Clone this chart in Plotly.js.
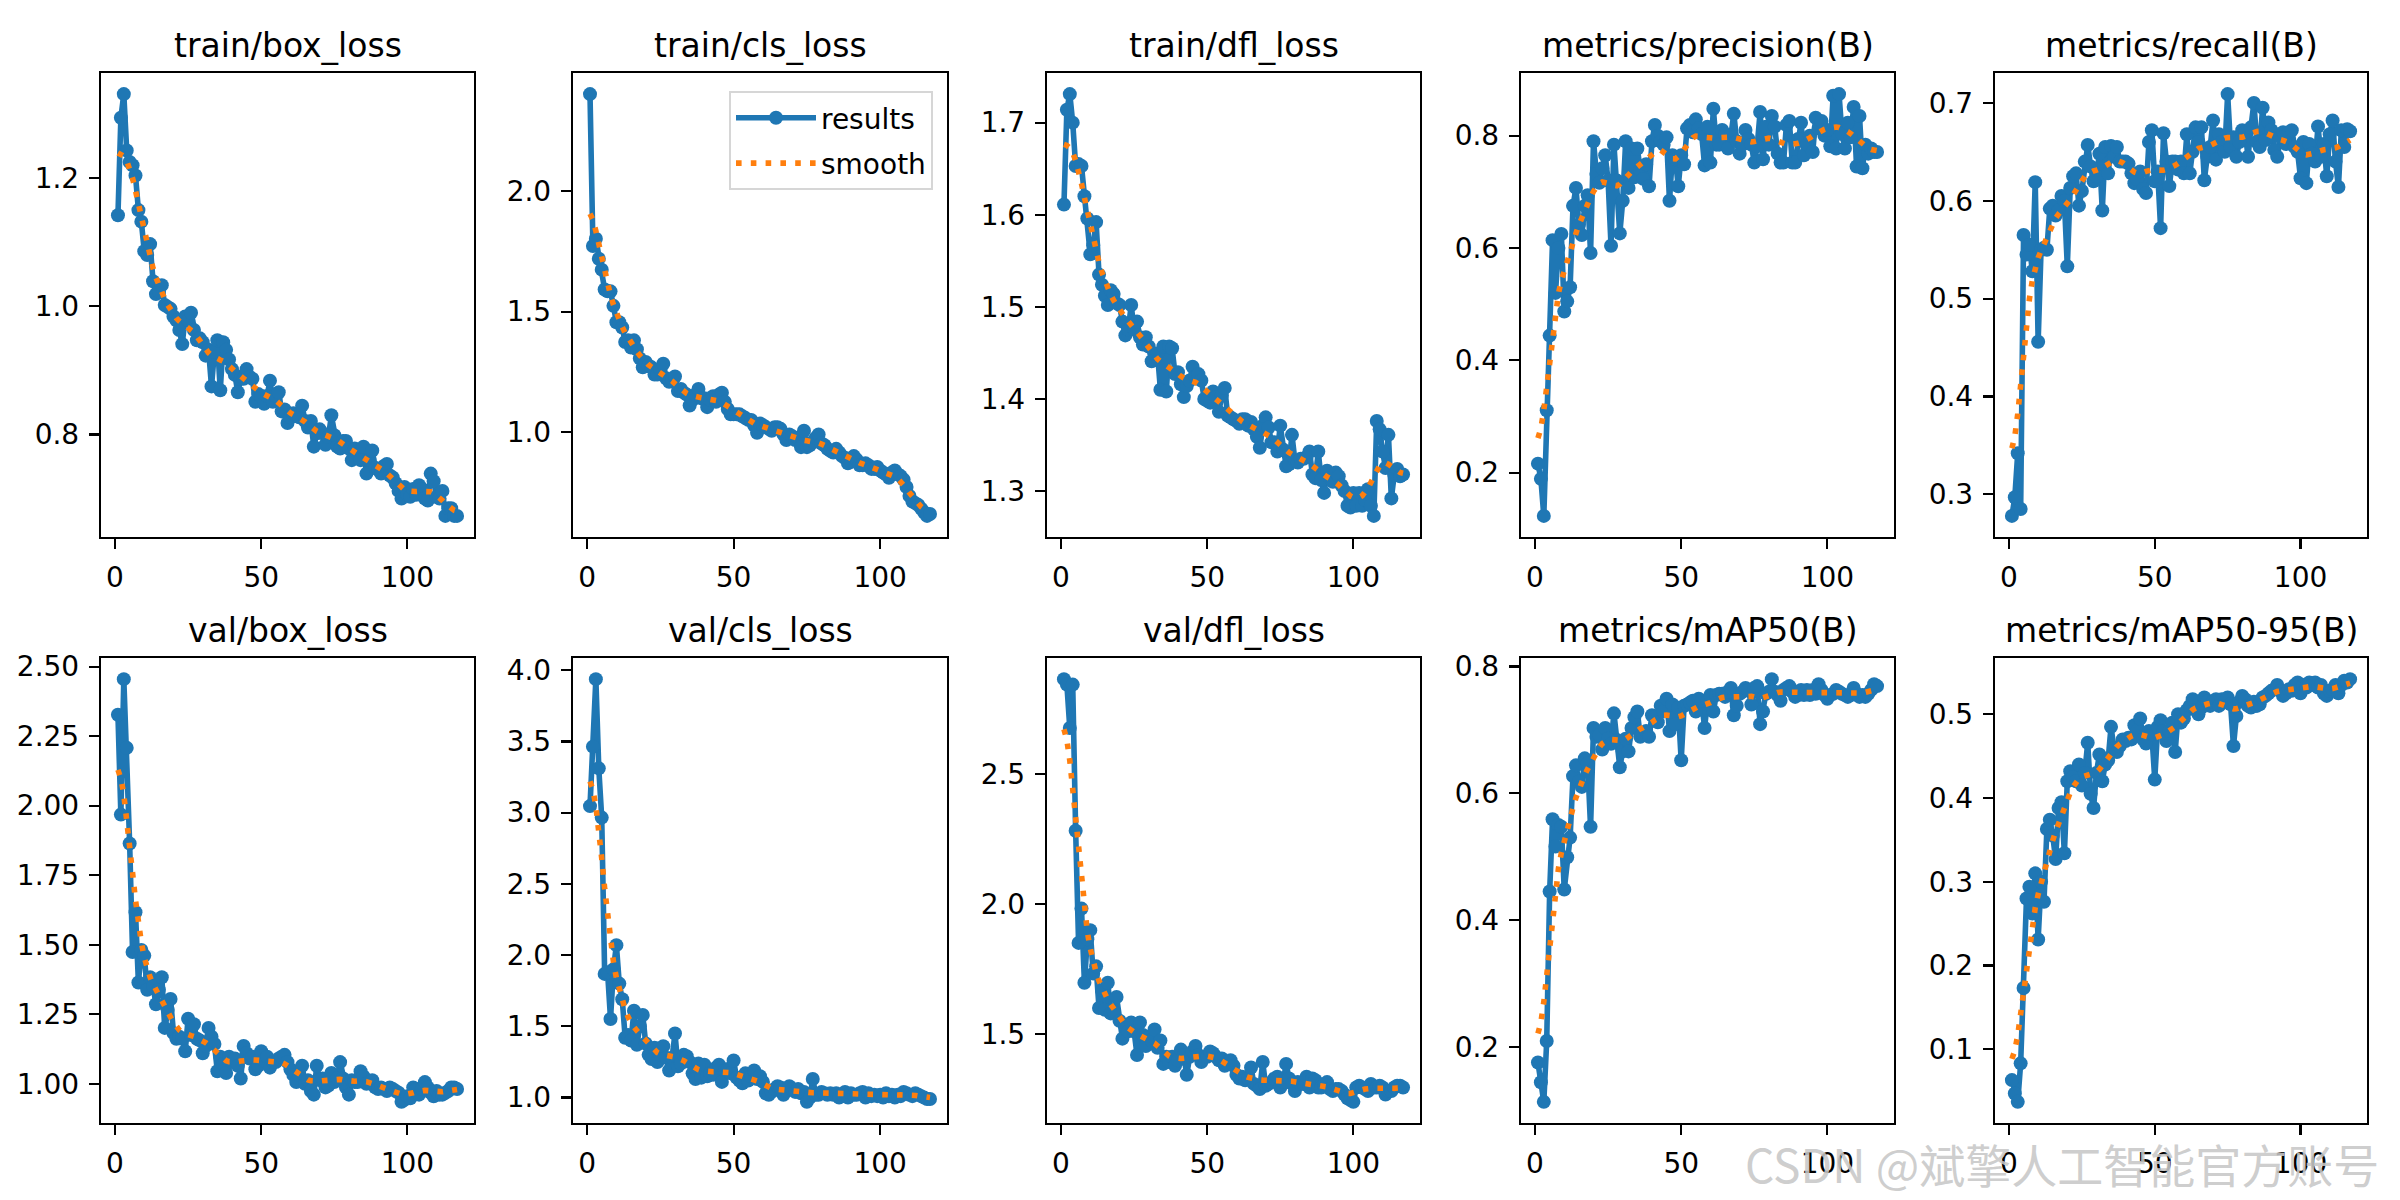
<!DOCTYPE html>
<html><head><meta charset="utf-8">
<script src="https://cdn.plot.ly/plotly-3.0.1.min.js"></script>
<style>html,body{margin:0;padding:0;background:#fff}#chart{width:2400px;height:1200px}</style>
</head><body><div id="chart"></div>
<script>
const panelTitles = ['train/box_loss','train/cls_loss','train/dfl_loss','metrics/precision(B)','metrics/recall(B)',
  'val/box_loss','val/cls_loss','val/dfl_loss','metrics/mAP50(B)','metrics/mAP50-95(B)'];
const xTickValues = [0, 50, 100];
const legendLabels = ['results', 'smooth'];
const watermarkText = 'CSDN @斌擎人工智能官方账号';

const trainBoxLoss = [1.142,1.294,1.331,1.243,1.225,1.220,1.204,1.150,1.132,1.086,
1.080,1.097,1.039,1.019,1.023,1.033,1.002,0.999,0.996,0.984,
0.978,0.963,0.941,0.984,0.978,0.990,0.963,0.947,0.950,0.944,
0.923,0.932,0.875,0.929,0.947,0.869,0.944,0.932,0.917,0.902,
0.893,0.866,0.887,0.887,0.902,0.890,0.887,0.851,0.863,0.860,
0.848,0.860,0.884,0.851,0.860,0.866,0.836,0.839,0.818,0.827,
0.833,0.830,0.827,0.845,0.821,0.811,0.821,0.781,0.802,0.808,
0.802,0.784,0.796,0.830,0.799,0.781,0.778,0.790,0.790,0.778,
0.760,0.778,0.769,0.760,0.781,0.739,0.760,0.775,0.748,0.745,
0.739,0.751,0.754,0.736,0.733,0.724,0.712,0.700,0.718,0.706,
0.703,0.715,0.706,0.721,0.715,0.700,0.697,0.739,0.727,0.703,
0.700,0.712,0.673,0.685,0.685,0.673,0.673];

const trainClsLoss = [2.402,1.772,1.802,1.719,1.674,1.592,1.584,1.584,1.524,1.456,
1.456,1.434,1.374,1.381,1.351,1.381,1.344,1.306,1.269,1.291,
1.276,1.269,1.239,1.239,1.261,1.284,1.224,1.209,1.216,1.231,
1.171,1.179,1.164,1.156,1.111,1.134,1.156,1.179,1.141,1.141,
1.104,1.134,1.149,1.126,1.156,1.164,1.126,1.096,1.074,1.074,
1.074,1.074,1.066,1.059,1.051,1.051,1.029,0.998,1.036,1.029,
1.021,1.014,1.006,1.021,1.021,1.014,0.991,0.968,0.991,0.983,
0.968,0.976,0.938,1.006,0.938,0.946,0.961,0.976,0.991,0.953,
0.946,0.931,0.923,0.916,0.931,0.916,0.901,0.893,0.871,0.878,
0.901,0.886,0.863,0.863,0.871,0.863,0.848,0.848,0.856,0.841,
0.833,0.826,0.811,0.833,0.841,0.826,0.818,0.803,0.773,0.736,
0.713,0.706,0.698,0.683,0.668,0.653,0.661];

const trainDflLoss = [1.611,1.714,1.731,1.700,1.653,1.655,1.653,1.620,1.596,1.557,
1.567,1.592,1.535,1.524,1.512,1.502,1.518,1.514,1.504,1.502,
1.484,1.469,1.475,1.502,1.475,1.484,1.467,1.459,1.467,1.457,
1.441,1.449,1.449,1.410,1.457,1.408,1.457,1.455,1.427,1.429,
1.416,1.402,1.414,1.420,1.435,1.424,1.427,1.420,1.400,1.398,
1.396,1.408,1.402,1.386,1.404,1.412,1.382,1.380,1.378,1.376,
1.373,1.378,1.378,1.371,1.375,1.367,1.359,1.347,1.371,1.380,
1.369,1.353,1.353,1.343,1.371,1.345,1.327,1.329,1.361,1.333,
1.331,1.335,1.335,1.337,1.343,1.318,1.314,1.343,1.312,1.298,
1.322,1.314,1.310,1.320,1.316,1.306,1.300,1.284,1.282,1.298,
1.284,1.298,1.284,1.290,1.302,1.284,1.273,1.376,1.367,1.343,
1.325,1.361,1.292,1.318,1.324,1.316,1.318];

const precisionB = [0.216,0.189,0.123,0.311,0.444,0.614,0.520,0.600,0.625,0.487,
0.505,0.530,0.675,0.707,0.642,0.623,0.675,0.694,0.591,0.790,
0.732,0.716,0.742,0.765,0.720,0.604,0.784,0.720,0.626,0.684,
0.790,0.707,0.777,0.726,0.777,0.739,0.723,0.749,0.710,0.790,
0.819,0.800,0.790,0.784,0.797,0.684,0.765,0.758,0.710,0.765,
0.749,0.813,0.819,0.806,0.829,0.813,0.803,0.747,0.816,0.752,
0.848,0.784,0.784,0.810,0.803,0.777,0.800,0.839,0.790,0.768,
0.784,0.810,0.794,0.784,0.752,0.781,0.842,0.758,0.816,0.784,
0.835,0.816,0.768,0.752,0.752,0.819,0.826,0.752,0.752,0.794,
0.823,0.765,0.784,0.800,0.771,0.832,0.813,0.826,0.800,0.810,
0.781,0.871,0.777,0.874,0.803,0.777,0.823,0.797,0.851,0.745,
0.835,0.742,0.784,0.768,0.777,0.771,0.771];

const recallB = [0.278,0.297,0.342,0.285,0.565,0.545,0.555,0.528,0.619,0.456,
0.550,0.552,0.550,0.592,0.595,0.585,0.590,0.605,0.600,0.533,
0.613,0.625,0.628,0.595,0.610,0.640,0.657,0.635,0.620,0.625,
0.648,0.590,0.655,0.628,0.656,0.645,0.655,0.640,0.640,0.640,
0.638,0.628,0.618,0.622,0.630,0.612,0.608,0.660,0.672,0.620,
0.630,0.572,0.669,0.640,0.615,0.640,0.640,0.632,0.640,0.628,
0.668,0.628,0.650,0.675,0.660,0.675,0.621,0.645,0.655,0.682,
0.642,0.668,0.660,0.650,0.709,0.655,0.665,0.645,0.660,0.672,
0.670,0.645,0.675,0.700,0.660,0.655,0.695,0.662,0.680,0.672,
0.652,0.645,0.665,0.670,0.658,0.670,0.672,0.655,0.650,0.623,
0.660,0.618,0.658,0.648,0.640,0.676,0.645,0.658,0.625,0.668,
0.682,0.640,0.614,0.672,0.655,0.673,0.671];

const valBoxLoss = [2.327,1.968,2.455,2.208,1.864,1.474,1.617,1.364,1.481,1.461,
1.338,1.383,1.351,1.286,1.338,1.383,1.201,1.266,1.305,1.182,
1.162,1.169,1.162,1.117,1.234,1.175,1.214,1.162,1.156,1.110,
1.136,1.201,1.169,1.143,1.045,1.097,1.071,1.039,1.097,1.078,
1.091,1.065,1.019,1.136,1.110,1.091,1.097,1.052,1.065,1.117,
1.084,1.097,1.058,1.078,1.078,1.091,1.097,1.104,1.078,1.052,
1.032,1.006,1.032,1.065,1.000,1.013,0.974,0.961,1.065,1.013,
1.019,0.987,0.994,1.039,1.006,1.019,1.078,1.019,0.987,0.961,
1.013,1.006,1.006,1.045,1.026,1.000,1.006,1.013,0.987,0.981,
0.987,0.981,0.974,0.987,0.981,0.974,0.968,0.935,0.942,0.955,
0.948,0.987,0.981,0.961,0.981,1.006,0.987,0.968,0.955,0.974,
0.961,0.961,0.968,0.974,0.987,0.987,0.981];

const valClsLoss = [3.046,3.463,3.937,3.311,2.965,1.868,1.880,1.552,1.900,2.070,
1.800,1.690,1.420,1.440,1.400,1.610,1.370,1.500,1.580,1.380,
1.300,1.270,1.350,1.250,1.300,1.360,1.280,1.190,1.280,1.450,
1.220,1.240,1.300,1.290,1.250,1.170,1.130,1.240,1.140,1.230,
1.150,1.170,1.160,1.210,1.230,1.110,1.190,1.200,1.170,1.260,
1.140,1.120,1.100,1.170,1.120,1.150,1.190,1.130,1.150,1.110,
1.030,1.020,1.040,1.060,1.080,1.070,1.020,1.050,1.080,1.060,
1.040,1.060,1.030,1.040,0.970,1.000,1.130,1.020,1.020,1.040,
1.030,1.020,1.030,1.020,1.030,1.000,1.020,1.040,1.000,1.030,
1.020,1.020,1.030,1.040,1.000,1.030,1.010,1.020,1.010,1.020,
1.000,1.030,1.010,1.020,1.000,1.020,1.010,1.040,1.030,1.020,
1.010,1.030,1.020,1.010,1.000,0.990,0.990];

const valDflLoss = [2.864,2.843,2.676,2.843,2.281,1.850,1.982,1.697,1.864,1.899,
1.732,1.760,1.600,1.669,1.593,1.697,1.579,1.586,1.642,1.551,
1.482,1.531,1.510,1.544,1.510,1.419,1.544,1.496,1.454,1.489,
1.475,1.517,1.447,1.475,1.385,1.412,1.392,1.412,1.378,1.399,
1.440,1.419,1.343,1.412,1.433,1.454,1.419,1.392,1.412,1.412,
1.433,1.426,1.412,1.399,1.406,1.378,1.385,1.399,1.378,1.343,
1.329,1.336,1.322,1.329,1.371,1.308,1.301,1.288,1.392,1.301,
1.308,1.315,1.329,1.336,1.294,1.315,1.385,1.329,1.308,1.281,
1.315,1.308,1.308,1.336,1.294,1.329,1.322,1.294,1.294,1.301,
1.315,1.288,1.281,1.288,1.288,1.281,1.267,1.253,1.246,1.239,
1.294,1.301,1.294,1.288,1.281,1.308,1.294,1.294,1.301,1.294,
1.267,1.281,1.281,1.294,1.301,1.301,1.294];

const mAP50B = [0.175,0.144,0.113,0.209,0.445,0.559,0.516,0.550,0.547,0.448,
0.499,0.530,0.627,0.644,0.618,0.610,0.655,0.647,0.547,0.703,
0.689,0.692,0.669,0.703,0.686,0.678,0.726,0.684,0.641,0.666,
0.686,0.666,0.703,0.720,0.729,0.689,0.692,0.698,0.689,0.723,
0.720,0.712,0.738,0.729,0.749,0.698,0.740,0.709,0.735,0.652,
0.738,0.740,0.743,0.746,0.729,0.749,0.746,0.703,0.746,0.755,
0.729,0.755,0.757,0.757,0.752,0.760,0.766,0.723,0.738,0.757,
0.760,0.766,0.763,0.740,0.766,0.769,0.709,0.729,0.757,0.760,
0.780,0.760,0.755,0.746,0.763,0.766,0.769,0.760,0.752,0.755,
0.763,0.755,0.763,0.755,0.763,0.757,0.772,0.763,0.755,0.749,
0.755,0.757,0.763,0.760,0.757,0.755,0.752,0.755,0.766,0.757,
0.752,0.755,0.752,0.757,0.763,0.772,0.769];

const mAP5095B = [0.063,0.047,0.037,0.083,0.173,0.280,0.294,0.262,0.310,0.231,
0.300,0.276,0.363,0.374,0.355,0.327,0.388,0.395,0.334,0.420,
0.432,0.425,0.420,0.440,0.415,0.430,0.466,0.405,0.388,0.430,
0.452,0.420,0.440,0.445,0.485,0.460,0.455,0.462,0.470,0.468,
0.472,0.470,0.487,0.480,0.495,0.470,0.465,0.480,0.476,0.422,
0.485,0.493,0.480,0.468,0.480,0.490,0.455,0.500,0.490,0.495,
0.505,0.510,0.518,0.505,0.500,0.508,0.520,0.515,0.510,0.515,
0.518,0.510,0.518,0.515,0.520,0.512,0.462,0.498,0.515,0.522,
0.518,0.510,0.508,0.515,0.510,0.512,0.520,0.522,0.525,0.528,
0.530,0.535,0.528,0.522,0.525,0.530,0.528,0.535,0.538,0.525,
0.535,0.532,0.538,0.535,0.538,0.532,0.535,0.525,0.522,0.528,
0.530,0.535,0.525,0.535,0.540,0.538,0.542];

const panelSeries = [trainBoxLoss, trainClsLoss, trainDflLoss, precisionB, recallB,
  valBoxLoss, valClsLoss, valDflLoss, mAP50B, mAP5095B];

// ---- presentation settings (not data) ----
const yTickStep = [0.2, 0.5, 0.1, 0.2, 0.1, 0.25, 0.5, 0.5, 0.2, 0.1];
const yTickFmt = ['.1f','.1f','.1f','.1f','.1f','.2f','.1f','.1f','.1f','.1f'];
const colPx = [[101,474],[573,947],[1047,1420],[1521,1894],[1995,2367]];
const rowPx = [[73,537],[658,1123]];
const W = 2400, H = 1200;
const BLUE = '#1f77b4', ORANGE = '#ff7f0e';
const FONT = 'DejaVu Sans, sans-serif';

// gaussian_filter1d(sigma=3, mode='reflect', truncate=4) as used for the "smooth" line
function gaussianSmooth(y, sigma) {
  const r = Math.floor(4 * sigma + 0.5);
  const w = [];
  let s = 0;
  for (let k = -r; k <= r; k++) { const v = Math.exp(-0.5 * k * k / (sigma * sigma)); w.push(v); s += v; }
  const n = y.length, out = [];
  for (let i = 0; i < n; i++) {
    let acc = 0;
    for (let k = -r; k <= r; k++) {
      let j = i + k;
      while (j < 0 || j >= n) { if (j < 0) j = -j - 1; if (j >= n) j = 2 * n - j - 1; }
      acc += y[j] * w[k + r] / s;
    }
    out.push(acc);
  }
  return out;
}

const traces = [];
const layout = {
  width: W, height: H,
  margin: {l: 0, r: 0, t: 0, b: 0},
  paper_bgcolor: '#fff', plot_bgcolor: '#fff',
  font: {family: FONT, color: '#000'},
  showlegend: true,
  legend: {
    x: 933 / W, xanchor: 'right', y: 1 - 91 / H, yanchor: 'top',
    bgcolor: 'rgba(255,255,255,0.8)', bordercolor: '#d6d6d6', borderwidth: 2,
    font: {family: FONT, size: 28, color: '#000'},
    itemwidth: 80, traceorder: 'grouped', tracegroupgap: 6
  },
  annotations: []
};

panelSeries.forEach((ys, i) => {
  const n = i + 1;
  const sfx = n === 1 ? '' : String(n);
  const epochs = ys.map((_, k) => k + 1);
  const sm = gaussianSmooth(ys, 3);
  traces.push({
    x: epochs, y: ys, type: 'scatter', mode: 'lines+markers', name: legendLabels[0],
    legendgroup: 'res', xaxis: 'x' + sfx, yaxis: 'y' + sfx, showlegend: i === 1,
    line: {color: BLUE, width: 5.6}, marker: {color: BLUE, size: 14}
  });
  traces.push({
    x: epochs, y: sm, type: 'scatter', mode: 'lines', name: legendLabels[1],
    legendgroup: 'smo', xaxis: 'x' + sfx, yaxis: 'y' + sfx, showlegend: i === 1,
    line: {color: ORANGE, width: 5.6, dash: '5.6px,9.2px'}
  });
  const all = ys.concat(sm);
  const lo = Math.min(...all), hi = Math.max(...all), pad = (hi - lo) * 0.05;
  const xpad = (epochs.length - 1) * 0.05;
  const col = colPx[i % 5], row = rowPx[Math.floor(i / 5)];
  const axCommon = {
    showline: true, mirror: true, linecolor: '#000', linewidth: 2.2,
    ticks: 'outside', ticklen: 10, tickwidth: 2.2, tickcolor: '#000',
    tickfont: {family: FONT, size: 28, color: '#000'},
    showgrid: false, zeroline: false, fixedrange: true, ticklabelstandoff: 4
  };
  layout['xaxis' + sfx] = Object.assign({}, axCommon, {
    domain: [col[0] / W, col[1] / W], anchor: 'y' + sfx,
    range: [1 - xpad, epochs.length + xpad], tickmode: 'array', tickvals: xTickValues
  });
  layout['yaxis' + sfx] = Object.assign({}, axCommon, {
    domain: [1 - row[1] / H, 1 - row[0] / H], anchor: 'x' + sfx,
    range: [lo - pad, hi + pad], tick0: 0, dtick: yTickStep[i], tickformat: yTickFmt[i]
  });
  layout.annotations.push({
    text: panelTitles[i], xref: 'paper', yref: 'paper',
    x: (col[0] + col[1]) / 2 / W, y: 1 - row[0] / H, xanchor: 'center', yanchor: 'bottom',
    yshift: 6, showarrow: false, font: {family: FONT, size: 33, color: '#000'}
  });
});

layout.annotations.push({
  text: watermarkText, xref: 'paper', yref: 'paper',
  x: 1743 / W, y: 1 - 1198 / H, xanchor: 'left', yanchor: 'bottom', showarrow: false,
  font: {family: 'Noto Sans CJK SC, sans-serif', size: 46, color: 'rgba(200,200,200,0.9)'}
});

Plotly.newPlot('chart', traces, layout, {staticPlot: true, displayModeBar: false});
</script></body></html>
